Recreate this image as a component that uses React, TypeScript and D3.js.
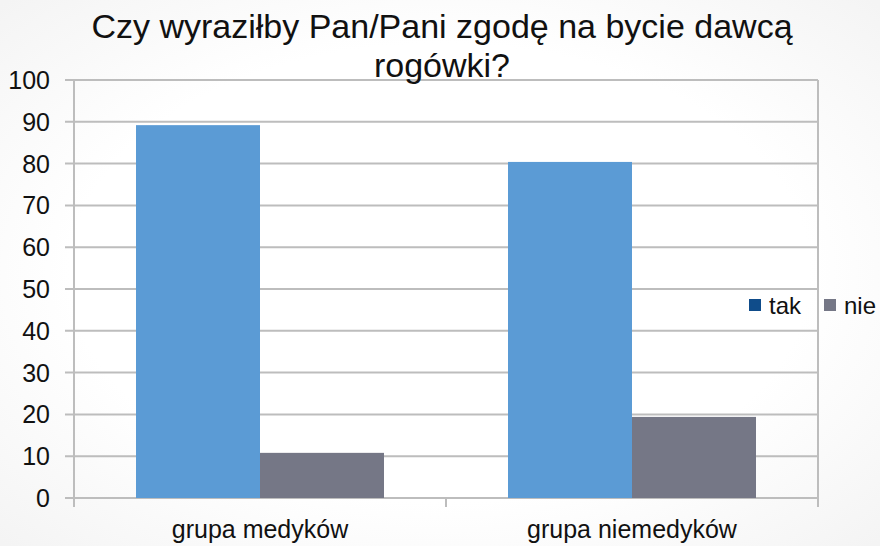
import { useEffect, useRef } from "react";
import * as d3 from "d3";

const categories = ["grupa medyków", "grupa niemedyków"];
const seriesNames = ["tak", "nie"];
const takValues = [89.2, 80.4];
const nieValues = [10.8, 19.4];
const yTicks = [0, 10, 20, 30, 40, 50, 60, 70, 80, 90, 100];
const titleLines = ["Czy wyraziłby Pan/Pani zgodę na bycie dawcą", "rogówki?"];

export default function App() {
  const svgRef = useRef<SVGSVGElement | null>(null);

  useEffect(() => {
    if (!svgRef.current) return;
    const svg = d3.select(svgRef.current);
    svg.selectAll("*").remove();

    const w = 880;
    const h = 546;
    const margin = { top: 80, right: 62, bottom: 48, left: 74 };
    const innerW = w - margin.left - margin.right;
    const innerH = h - margin.top - margin.bottom;
    const font = "'Liberation Sans', Arial, sans-serif";

    // soft background
    const defs = svg.append("defs");
    const bg = defs
      .append("radialGradient")
      .attr("id", "bgGrad")
      .attr("cx", "50%")
      .attr("cy", "50%")
      .attr("r", "70%");
    bg.append("stop").attr("offset", "60%").attr("stop-color", "#ffffff");
    bg.append("stop").attr("offset", "100%").attr("stop-color", "#f4f4f4");
    svg.append("rect").attr("width", w).attr("height", h).attr("fill", "url(#bgGrad)");

    const g = svg.append("g").attr("transform", `translate(${margin.left},${margin.top})`);

    const x0 = d3.scaleBand<string>().domain(categories).range([0, innerW]).paddingInner(0).paddingOuter(0);
    const x1 = d3
      .scaleBand<string>()
      .domain(seriesNames)
      .range([0, x0.bandwidth()])
      .paddingOuter(0.5)
      .paddingInner(0);
    const y = d3.scaleLinear().domain([0, 100]).range([innerH, 0]);

    // gridlines + tick labels
    yTicks.forEach((t) => {
      g.append("line")
        .attr("x1", -9)
        .attr("x2", innerW)
        .attr("y1", y(t))
        .attr("y2", y(t))
        .attr("stroke", "#bdbdbd")
        .attr("stroke-width", 2);
      g.append("text")
        .attr("x", -24)
        .attr("y", y(t))
        .attr("dy", "0.36em")
        .attr("text-anchor", "end")
        .attr("font-family", font)
        .attr("font-size", 25)
        .attr("fill", "#111")
        .text(t);
    });

    // plot border verticals
    g.append("line")
      .attr("x1", 0).attr("x2", 0).attr("y1", 0).attr("y2", innerH + 9)
      .attr("stroke", "#bdbdbd").attr("stroke-width", 2);
    g.append("line")
      .attr("x1", innerW).attr("x2", innerW).attr("y1", 0).attr("y2", innerH + 9)
      .attr("stroke", "#bdbdbd").attr("stroke-width", 2);
    g.append("line")
      .attr("x1", x0(categories[1])!).attr("x2", x0(categories[1])!)
      .attr("y1", innerH).attr("y2", innerH + 9)
      .attr("stroke", "#bdbdbd").attr("stroke-width", 2);

    const colors: Record<string, string> = { tak: "#5b9bd5", nie: "#757786" };
    const legendColors: Record<string, string> = { tak: "#0f4c8a", nie: "#757786" };

    categories.forEach((c, i) => {
      const vals: Record<string, number> = { tak: takValues[i], nie: nieValues[i] };
      seriesNames.forEach((s) => {
        g.append("rect")
          .attr("x", x0(c)! + x1(s)!)
          .attr("y", y(vals[s]))
          .attr("width", x1.bandwidth())
          .attr("height", innerH - y(vals[s]))
          .attr("fill", colors[s]);
      });
      g.append("text")
        .attr("x", x0(c)! + x0.bandwidth() / 2)
        .attr("y", innerH + 40)
        .attr("text-anchor", "middle")
        .attr("font-family", font)
        .attr("font-size", 25)
        .attr("fill", "#111")
        .text(c);
    });

    // legend
    const legendX = [749, 824];
    seriesNames.forEach((s, i) => {
      svg.append("rect")
        .attr("x", legendX[i])
        .attr("y", 299)
        .attr("width", 12)
        .attr("height", 12)
        .attr("fill", legendColors[s]);
      svg.append("text")
        .attr("x", legendX[i] + 20)
        .attr("y", 314)
        .attr("font-family", font)
        .attr("font-size", 24)
        .attr("fill", "#111")
        .text(s);
    });

    // title
    titleLines.forEach((line, i) => {
      svg.append("text")
        .attr("x", 442)
        .attr("y", 38 + i * 39)
        .attr("text-anchor", "middle")
        .attr("font-family", font)
        .attr("font-size", 34)
        .attr("fill", "#111")
        .text(line);
    });
  }, []);

  return (
    <div style={{ position: "absolute", left: 0, top: 0, width: 880, height: 546 }}>
      <svg ref={svgRef} width={880} height={546} style={{ display: "block" }} />
    </div>
  );
}
